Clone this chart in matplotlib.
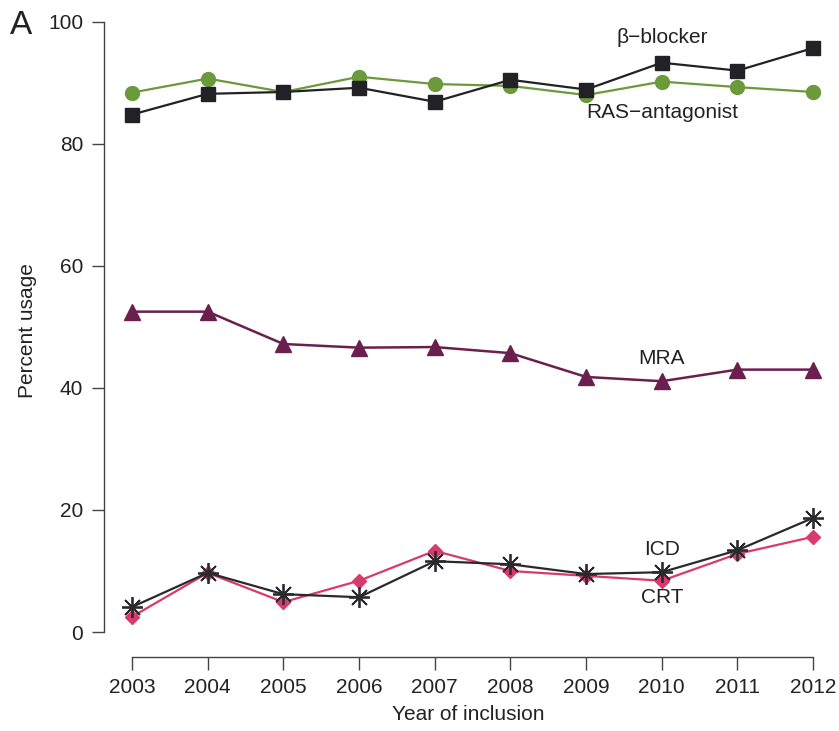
import matplotlib
matplotlib.use("Agg")
import matplotlib.pyplot as plt

years = [2003, 2004, 2005, 2006, 2007, 2008, 2009, 2010, 2011, 2012]
beta_blocker = [84.8, 88.2, 88.5, 89.2, 86.9, 90.5, 88.9, 93.3, 92.0, 95.7]
ras_antagonist = [88.4, 90.7, 88.5, 91.0, 89.8, 89.5, 88.0, 90.2, 89.3, 88.5]
mra = [52.5, 52.5, 47.2, 46.6, 46.7, 45.7, 41.8, 41.1, 43.0, 43.0]
icd = [4.1, 9.7, 6.2, 5.7, 11.6, 11.1, 9.5, 9.8, 13.4, 18.7]
crt = [2.5, 9.7, 4.9, 8.4, 13.3, 10.0, 9.2, 8.4, 12.8, 15.6]
yticks = [0, 20, 40, 60, 80, 100]

plt.rcParams['font.family'] = ['Liberation Sans', 'DejaVu Sans']

fig = plt.figure(figsize=(8.39, 7.31), dpi=100)
ax = fig.add_axes([0.124, 0.1012, 0.8677, 0.894])

green = '#6a9a3a'
dark = '#222226'
purple = '#6b1f4f'
pink = '#d93a6e'

ax.plot(years, ras_antagonist, color=green, lw=1.6, marker='o', ms=10, clip_on=False, zorder=3)
ax.plot(years, beta_blocker, color=dark, lw=1.6, marker='s', ms=10, clip_on=False, zorder=4)
ax.plot(years, mra, color=purple, lw=1.8, marker='^', ms=12, clip_on=False, zorder=3)
ax.plot(years, crt, color=pink, lw=1.6, marker='D', ms=7, clip_on=False, zorder=3)
ax.plot(years, icd, color='#2a2a2e', lw=1.6, marker=(8, 2, 0), ms=15, mew=1.3, clip_on=False, zorder=4)

tkw = dict(fontsize=15, color='#222222', ha='center', va='center')
ax.text(2010.0, 97.4, 'β\u2212blocker', **tkw)
ax.text(2010.0, 85.2, 'RAS\u2212antagonist', **tkw)
ax.text(2010.0, 44.9, 'MRA', **tkw)
ax.text(2010.0, 13.6, 'ICD', **tkw)
ax.text(2010.0, 5.6, 'CRT', **tkw)

ax.set_xlim(2002.63, 2012.25)
ax.set_ylim(-4.1, 103)
ax.set_xticks(years)
ax.set_yticks(yticks)
ax.set_xticklabels([str(y) for y in years])

for s in ['top', 'right']:
    ax.spines[s].set_visible(False)
ax.spines['left'].set_bounds(0, 100)
ax.spines['bottom'].set_bounds(2003, 2012)
for s in ['left', 'bottom']:
    ax.spines[s].set_color('#444444')
    ax.spines[s].set_linewidth(1.0)
ax.tick_params(length=9, width=1.0, color='#444444', labelsize=15, labelcolor='#222222', pad=6)

ax.set_xlabel('Year of inclusion', fontsize=15, color='#222222', labelpad=6)
ax.set_ylabel('Percent usage', fontsize=15, color='#222222', labelpad=8)

fig.text(0.012, 0.965, 'A', fontsize=24, color='#222222', ha='left', va='center')

fig.savefig('out.png', dpi=100)
